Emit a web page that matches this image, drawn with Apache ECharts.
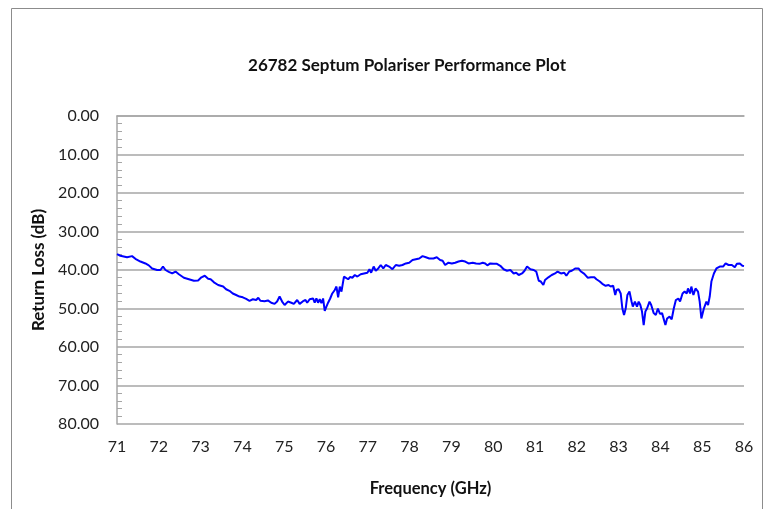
<!DOCTYPE html>
<html>
<head>
<meta charset="utf-8">
<script src="https://cdn.jsdelivr.net/npm/echarts@6/dist/echarts.min.js"></script>
<style>
  html, body { margin: 0; padding: 0; background: #fff; }
  #chart { width: 776px; height: 509px; }
</style>
</head>
<body>
<div id="chart"></div>
<script>
// frequency in GHz, return loss in dB
var frequency = [
  71.00, 71.08, 71.16, 71.24, 71.36, 71.44, 71.56, 71.68, 71.76, 71.84, 71.96, 72.04, 72.10, 72.16, 72.24,
  72.32, 72.40, 72.48, 72.60, 72.72, 72.84, 72.94, 73.02, 73.10, 73.18, 73.24, 73.32, 73.42, 73.54, 73.61,
  73.69, 73.77, 73.85, 73.93, 74.01, 74.09, 74.17, 74.25, 74.33, 74.38, 74.43, 74.53, 74.61, 74.69, 74.77,
  74.83, 74.89, 74.95, 75.01, 75.09, 75.17, 75.23, 75.31, 75.37, 75.45, 75.51, 75.55, 75.61, 75.65, 75.69,
  75.73, 75.77, 75.81, 75.85, 75.89, 75.93, 75.97, 76.01, 76.05, 76.10, 76.15, 76.21, 76.25, 76.29, 76.33,
  76.37, 76.43, 76.47, 76.53, 76.58, 76.63, 76.69, 76.75, 76.83, 76.91, 76.99, 77.04, 77.08, 77.14, 77.19,
  77.25, 77.31, 77.37, 77.43, 77.51, 77.59, 77.67, 77.75, 77.83, 77.91, 77.99, 78.07, 78.15, 78.23, 78.31,
  78.39, 78.47, 78.57, 78.65, 78.73, 78.79, 78.85, 78.93, 79.01, 79.09, 79.17, 79.25, 79.33, 79.41, 79.45,
  79.51, 79.59, 79.67, 79.75, 79.81, 79.86, 79.93, 80.01, 80.09, 80.17, 80.25, 80.33, 80.41, 80.49, 80.55,
  80.61, 80.69, 80.75, 80.81, 80.89, 80.97, 81.03, 81.09, 81.14, 81.20, 81.24, 81.32, 81.40, 81.48, 81.54,
  81.62, 81.70, 81.75, 81.82, 81.88, 81.96, 82.04, 82.10, 82.18, 82.26, 82.34, 82.42, 82.47, 82.55, 82.61,
  82.69, 82.76, 82.81, 82.87, 82.92, 82.95, 83.00, 83.05, 83.09, 83.13, 83.17, 83.21, 83.26, 83.31, 83.34,
  83.39, 83.44, 83.48, 83.52, 83.56, 83.60, 83.64, 83.68, 83.74, 83.78, 83.84, 83.89, 83.94, 83.99, 84.04,
  84.08, 84.12, 84.16, 84.22, 84.27, 84.32, 84.37, 84.43, 84.47, 84.53, 84.58, 84.63, 84.66, 84.71, 84.74,
  84.79, 84.84, 84.90, 84.94, 84.98, 85.04, 85.10, 85.14, 85.18, 85.22, 85.28, 85.34, 85.42, 85.50, 85.56,
  85.63, 85.71, 85.78, 85.83, 85.90, 85.96, 86.00
];
var returnLoss = [
  35.9, 36.3, 36.5, 36.7, 36.4, 37.1, 37.8, 38.3, 38.8, 39.6, 40.0, 40.0, 39.1, 40.0, 40.5,
  40.9, 40.4, 41.1, 42.0, 42.4, 42.8, 42.7, 41.9, 41.5, 42.3, 42.4, 43.2, 43.9, 44.3, 45.0,
  45.4, 46.1, 46.5, 46.9, 47.1, 47.5, 48.0, 47.6, 47.8, 47.2, 48.0, 48.1, 47.9, 48.5, 48.8,
  48.2, 46.9, 48.2, 49.1, 48.2, 48.5, 48.8, 47.8, 48.8, 48.1, 47.8, 48.5, 47.6, 48.0, 47.4,
  48.5, 47.4, 48.5, 47.6, 48.6, 47.4, 50.6, 49.5, 48.5, 47.4, 46.1, 45.2, 44.3, 47.1, 44.3,
  45.6, 41.7, 41.3, 42.4, 41.8, 42.0, 41.3, 41.7, 41.1, 40.9, 40.7, 39.8, 40.7, 39.1, 40.2,
  39.6, 38.7, 39.6, 38.7, 39.1, 39.8, 38.7, 38.9, 38.7, 38.3, 38.1, 37.4, 37.2, 37.0, 36.4,
  36.7, 37.0, 37.0, 36.7, 37.4, 37.6, 38.7, 38.1, 38.3, 38.1, 37.8, 37.6, 37.8, 38.3, 38.8,
  38.1, 38.3, 38.4, 38.1, 38.3, 38.8, 38.3, 38.4, 38.4, 38.9, 39.8, 40.2, 40.0, 40.9, 40.7,
  41.3, 40.9, 40.2, 39.1, 39.8, 40.0, 40.4, 42.8, 43.0, 43.9, 42.6, 41.9, 41.3, 40.9, 40.4,
  40.9, 40.7, 41.5, 40.4, 40.2, 39.6, 39.6, 40.4, 41.0, 42.0, 41.9, 41.9, 42.4, 43.0, 43.6,
  44.1, 43.9, 44.3, 44.1, 46.5, 45.2, 45.0, 46.1, 50.0, 51.7, 50.0, 46.5, 45.6, 48.2, 49.5,
  48.2, 49.5, 48.2, 49.1, 50.8, 54.3, 50.8, 50.0, 48.2, 49.1, 51.2, 51.7, 50.0, 51.4, 51.2,
  51.0, 54.3, 52.6, 52.1, 52.8, 50.0, 47.8, 47.4, 48.2, 46.1, 45.6, 46.1, 44.8, 46.1, 44.3,
  46.5, 44.8, 45.6, 48.2, 52.6, 50.0, 48.2, 49.1, 46.9, 43.0, 40.9, 39.6, 39.1, 39.1, 38.3,
  38.7, 38.7, 39.3, 38.4, 38.3, 38.9, 39.0
];
var yTicks = [0, 10, 20, 30, 40, 50, 60, 70, 80];

var points = frequency.map(function (f, i) { return [f, returnLoss[i]]; });

var fontFamily = 'Lato, "Open Sans", sans-serif';
var chart = echarts.init(document.getElementById('chart'));

chart.setOption({
  backgroundColor: '#fff',
  animation: false,
  title: {
    text: '26782 Septum Polariser Performance Plot',
    left: 402,
    top: 52,
    textAlign: 'center',
    textStyle: { fontFamily: fontFamily, fontSize: 17, fontWeight: 'bold', color: '#111' }
  },
  grid: { left: 117, right: 32, top: 116, bottom: 85 },
  xAxis: {
    type: 'value',
    min: 71,
    max: 86,
    interval: 1,
    name: 'Frequency (GHz)',
    nameLocation: 'middle',
    nameGap: 56,
    nameTextStyle: { fontFamily: fontFamily, fontSize: 16.5, fontWeight: 'bold', color: '#111' },
    axisLine: { lineStyle: { color: '#a6a6a6', width: 1.5 } },
    axisTick: { show: false },
    splitLine: { show: false },
    axisLabel: { margin: 15, fontFamily: fontFamily, fontSize: 16, color: '#222' }
  },
  yAxis: {
    type: 'value',
    inverse: true,
    min: yTicks[0],
    max: yTicks[yTicks.length - 1],
    interval: 10,
    name: 'Return Loss (dB)',
    nameLocation: 'middle',
    nameGap: 66,
    nameRotate: 90,
    nameTextStyle: { fontFamily: fontFamily, fontSize: 17, fontWeight: 'bold', color: '#111' },
    axisLine: { show: true, lineStyle: { color: '#a6a6a6', width: 1.5 } },
    axisTick: { show: false, inside: true },
    minorTick: { show: true, splitNumber: 5, length: 5, lineStyle: { color: '#a6a6a6' } },
    splitLine: { lineStyle: { color: '#a6a6a6', width: 1.5 } },
    axisLabel: {
      margin: 18, fontFamily: fontFamily, fontSize: 16, color: '#222',
      formatter: function (v) { return v.toFixed(2); }
    }
  },
  graphic: [{
    type: 'rect',
    shape: { x: 11.5, y: 8.5, width: 751, height: 520 },
    style: { fill: 'none', stroke: '#8c8c8c', lineWidth: 1 },
    silent: true
  }],
  series: [{
    type: 'line',
    data: points,
    showSymbol: false,
    lineStyle: { color: '#0000ff', width: 2 },
    itemStyle: { color: '#0000ff' }
  }]
});
</script>
</body>
</html>
